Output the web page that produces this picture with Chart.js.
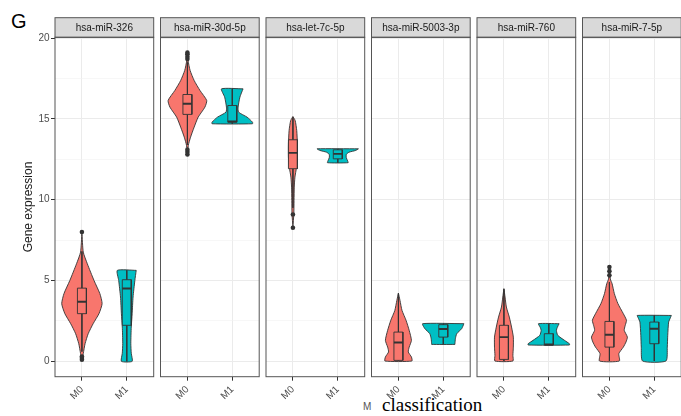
<!DOCTYPE html>
<html>
<head>
<meta charset="utf-8">
<script src="https://cdn.jsdelivr.net/npm/chart.js@4.4.0/dist/chart.umd.min.js"></script>
<style>
  html, body { margin: 0; padding: 0; background: #fff; }
  #wrap { position: relative; width: 681px; height: 416px; overflow: hidden; font-family: "Liberation Sans", Arial, sans-serif; }
  #wrap canvas { position: absolute; top: 0; }
  .lbl { position: absolute; white-space: nowrap; line-height: 1; }
</style>
</head>
<body>
<div id="wrap">
  <div class="lbl" style="left:11px;top:11px;font-size:20px;color:#000;">G</div>
  <div class="lbl" style="left:363px;top:401.5px;font-size:10px;color:#555;">M</div>
  <div class="lbl" style="left:382px;top:395px;font-size:19px;color:#000;font-family:'Liberation Serif','Times New Roman',serif;">classification</div>
</div>
<script>
// facets and groups
const genes = ['hsa-miR-326', 'hsa-miR-30d-5p', 'hsa-let-7c-5p', 'hsa-miR-5003-3p', 'hsa-miR-760', 'hsa-miR-7-5p'];
const groups = ['M0', 'M1'];
const groupColors = ['#F8766D', '#00BFC4'];
const yTicks = [0, 2.5, 5, 7.5, 10, 12.5, 15, 17.5, 20];

// violin outlines, one per gene: [value, half width], top to bottom
const violinM0 = [
  [[7.98, 0], [6.76, 0.03], [6.04, 0.12], [5.0, 0.27], [4.19, 0.40], [3.57, 0.45], [2.95, 0.38], [2.33, 0.25], [1.71, 0.14], [1.09, 0.07], [0.48, 0.03], [0.05, 0]],
  [[19.1, 0], [18.6, 0.015], [18.0, 0.06], [17.38, 0.15], [16.76, 0.28], [16.14, 0.43], [15.73, 0.39], [15.11, 0.24], [14.49, 0.15], [13.87, 0.07], [13.36, 0.02], [12.75, 0]],
  [[15.15, 0], [14.9, 0.05], [14.29, 0.085], [13.46, 0.10], [12.63, 0.10], [12.0, 0.08], [11.4, 0.045], [10.78, 0.03], [9.96, 0.025], [9.13, 0.02], [8.3, 0]],
  [[4.22, 0], [3.77, 0.035], [3.15, 0.08], [2.54, 0.17], [1.92, 0.24], [1.3, 0.29], [0.88, 0.24], [0.58, 0.22], [0.27, 0.29], [0.02, 0.30]],
  [[4.5, 0], [3.98, 0.025], [3.36, 0.055], [2.74, 0.12], [2.12, 0.17], [1.5, 0.21], [0.88, 0.21], [0.37, 0.2], [0.02, 0.2]],
  [[5.83, 0], [5.1, 0.02], [4.8, 0.06], [4.19, 0.11], [3.57, 0.19], [2.95, 0.31], [2.54, 0.38], [2.2, 0.35], [1.92, 0.33], [1.5, 0.40], [1.2, 0.37], [0.88, 0.31], [0.48, 0.21], [0.02, 0.22]]
];
const violinM1 = [
  [[5.63, 0.21], [5.0, 0.18], [3.98, 0.14], [2.95, 0.12], [2.12, 0.10], [1.11, 0.09], [0.5, 0.10], [0, 0.12]],
  [[16.86, 0.24], [16.35, 0.17], [15.73, 0.13], [15.42, 0.14], [15.11, 0.33], [14.8, 0.45], [14.7, 0.45]],
  [[13.15, 0.46], [13.05, 0.40], [12.94, 0.25], [12.8, 0.19], [12.6, 0.19], [12.4, 0.22], [12.29, 0.23]],
  [[2.33, 0.46], [2.02, 0.41], [1.71, 0.30], [1.4, 0.27], [1.09, 0.26], [1.05, 0.26]],
  [[2.33, 0.23], [2.1, 0.19], [1.92, 0.17], [1.61, 0.2], [1.3, 0.35], [1.09, 0.46], [1.01, 0.46]],
  [[2.84, 0.38], [2.7, 0.36], [2.43, 0.32], [1.61, 0.30], [0.88, 0.29], [0.02, 0.26]]
];

// boxplots: [lower whisker, q1, median, q3, upper whisker]
const boxM0 = [
  [0.6, 2.95, 3.69, 4.53, 6.8],
  [13.4, 15.28, 15.94, 16.51, 18.5],
  [9.5, 11.92, 12.9, 13.71, 15.1],
  [0.02, 0.06, 1.17, 1.81, 4.2],
  [0.02, 0.12, 1.5, 2.23, 4.45],
  [0.02, 0.88, 1.65, 2.47, 4.9]
];
const boxM1 = [
  [0, 2.23, 4.51, 5.05, 5.63],
  [14.7, 14.8, 14.84, 15.83, 16.86],
  [12.29, 12.53, 12.84, 13.09, 13.15],
  [1.05, 1.5, 2.0, 2.27, 2.33],
  [1.01, 1.01, 1.04, 1.71, 2.33],
  [0.02, 1.09, 2.02, 2.43, 2.84]
];
const outliersM0 = [[0.1, 0.2, 0.3, 8.0], [12.8, 12.95, 13.1, 18.7, 18.85, 19.0, 19.1], [8.27, 9.09], [], [], [5.32, 5.58, 5.83]];
const outliersM1 = [[], [], [], [], [], []];

// layout of the facets (pixels)
const panelLeft = 55, panelStep = 105.5, panelWidth = 98.7;
const stripTop = 17.7, plotTop = 37.3, plotBottom = 376.7, pageHeight = 416;
const boxHalf = 0.1;
const outline = '#333333';

function violinPoints(profile, c) {
  const right = profile.map(([y, w]) => ({x: c + w, y: y}));
  const left = profile.slice().reverse().map(([y, w]) => ({x: c - w, y: y}));
  return right.concat(left, [right[0]]);
}

function groupDatasets(profile, box, outliers, c, color) {
  const [lo, q1, med, q3, hi] = box;
  const line = {type: 'line', pointRadius: 0, borderColor: outline, tension: 0};
  return [
    Object.assign({}, line, {data: violinPoints(profile, c), fill: 'shape', backgroundColor: color, borderWidth: 0.9, tension: 0.2, order: 5}),
    Object.assign({}, line, {data: [{x: c, y: hi}, {x: c, y: q3}], borderWidth: 0.9, order: 4}),
    Object.assign({}, line, {data: [{x: c, y: q1}, {x: c, y: lo}], borderWidth: 0.9, order: 4}),
    Object.assign({}, line, {data: [{x: c - boxHalf, y: q3}, {x: c + boxHalf, y: q3}, {x: c + boxHalf, y: q1}, {x: c - boxHalf, y: q1}, {x: c - boxHalf, y: q3}],
      fill: 'shape', backgroundColor: color, borderWidth: 0.9, order: 3}),
    Object.assign({}, line, {data: [{x: c - boxHalf, y: med}, {x: c + boxHalf, y: med}], borderWidth: 1.9, order: 2}),
    {type: 'scatter', data: outliers.map(v => ({x: c, y: v})), pointRadius: 2.3, backgroundColor: outline, borderWidth: 0, order: 1}
  ];
}

// frame and grey strip of each facet
const facetFrame = {
  id: 'facetFrame',
  afterDraw(chart, args, opts) {
    const {ctx, chartArea: a} = chart;
    ctx.save();
    ctx.fillStyle = '#D9D9D9';
    ctx.fillRect(a.left, stripTop, a.right - a.left, a.top - stripTop);
    ctx.strokeStyle = '#555555';
    ctx.lineWidth = 1;
    ctx.strokeRect(a.left, stripTop, a.right - a.left, a.top - stripTop);
    ctx.strokeRect(a.left, a.top, a.right - a.left, a.bottom - a.top);
    ctx.fillStyle = '#1A1A1A';
    ctx.font = '10px "Liberation Sans", Arial, sans-serif';
    ctx.textAlign = 'center';
    ctx.textBaseline = 'middle';
    ctx.fillText(opts.label, (a.left + a.right) / 2, (stripTop + a.top) / 2 + 0.5);
    ctx.restore();
  }
};

const isMajor = v => Math.abs(v % 5) < 1e-6;
const wrap = document.getElementById('wrap');

genes.forEach((gene, i) => {
  const left = panelLeft + i * panelStep;
  const canvasLeft = i === 0 ? 0 : Math.floor(left) - 4;
  const canvasWidth = i === 0 ? 158 : 108;
  const padL = i === 0 ? 0 : left - canvasLeft;
  const yWidth = i === 0 ? panelLeft : 0;
  const padR = canvasWidth - yWidth - padL - panelWidth;

  const canvas = document.createElement('canvas');
  canvas.width = canvasWidth;
  canvas.height = pageHeight;
  canvas.style.left = canvasLeft + 'px';
  wrap.appendChild(canvas);

  const datasets = groupDatasets(violinM0[i], boxM0[i], outliersM0[i], 1, groupColors[0])
    .concat(groupDatasets(violinM1[i], boxM1[i], outliersM1[i], 2, groupColors[1]));

  new Chart(canvas, {
    type: 'scatter',
    data: {datasets: datasets},
    plugins: [facetFrame],
    options: {
      responsive: false,
      animation: false,
      devicePixelRatio: 1,
      events: [],
      layout: {padding: {left: padL, right: padR, top: plotTop, bottom: 0}},
      plugins: {
        legend: {display: false},
        tooltip: {enabled: false},
        facetFrame: {label: gene}
      },
      scales: {
        x: {
          type: 'linear',
          min: 0.4,
          max: 2.6,
          afterBuildTicks: s => { s.ticks = groups.map((g, k) => ({value: k + 1})); },
          afterFit: s => { s.height = pageHeight - plotBottom; },
          ticks: {
            callback: v => groups[Math.round(v) - 1],
            minRotation: 45,
            maxRotation: 45,
            color: '#4D4D4D',
            font: {size: 10, family: '"Liberation Sans", Arial, sans-serif'},
            padding: 3
          },
          grid: {color: '#EBEBEB', lineWidth: 1, tickColor: '#333333', tickLength: 4},
          border: {display: false}
        },
        y: {
          type: 'linear',
          min: -0.95,
          max: 20.05,
          afterBuildTicks: s => { s.ticks = yTicks.map(v => ({value: v})); },
          afterFit: s => { s.width = yWidth; },
          ticks: {
            display: i === 0,
            callback: v => isMajor(v) ? String(v) : '',
            color: '#4D4D4D',
            font: {size: 10, family: '"Liberation Sans", Arial, sans-serif'},
            padding: 1.5
          },
          grid: {
            color: ctx => isMajor(ctx.tick.value) ? '#EBEBEB' : '#F2F2F2',
            lineWidth: ctx => isMajor(ctx.tick.value) ? 1 : 0.6,
            tickColor: ctx => isMajor(ctx.tick.value) ? '#333333' : 'rgba(0,0,0,0)',
            tickLength: 4,
            drawTicks: i === 0
          },
          border: {display: false},
          title: {
            display: i === 0,
            text: 'Gene expression',
            color: '#1A1A1A',
            font: {size: 12, family: '"Liberation Sans", Arial, sans-serif'},
            padding: {top: 21, bottom: 0}
          }
        }
      }
    }
  });
});
</script>
</body>
</html>
